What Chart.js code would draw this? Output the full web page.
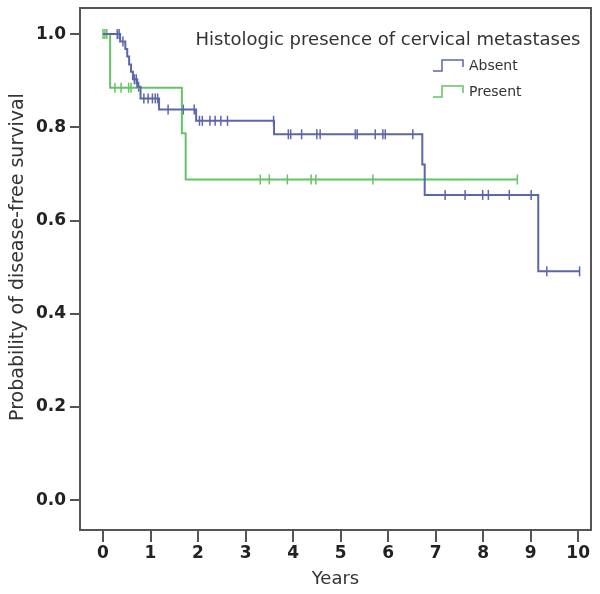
<!DOCTYPE html>
<html>
<head>
<meta charset="utf-8">
<script src="https://cdn.jsdelivr.net/npm/chart.js@4.4.1/dist/chart.umd.min.js"></script>
<style>
  html, body { margin: 0; padding: 0; background: #fff; }
  #wrap { width: 600px; height: 594px; }
</style>
</head>
<body>
<div id="wrap"><canvas id="km"></canvas></div>
<script>
const xTicks = [0, 1, 2, 3, 4, 5, 6, 7, 8, 9, 10];
const yTicks = [0, 0.2, 0.4, 0.6, 0.8, 1.0];

// Absent group: event times and survival after each step
const absentTimes = [0, 0.36, 0.47, 0.51, 0.55, 0.59, 0.63, 0.72, 0.79, 1.18, 1.96, 3.60, 6.72, 6.77, 9.16];
const absentSurv = [1.0, 0.984, 0.968, 0.952, 0.935, 0.919, 0.903, 0.887, 0.862, 0.838, 0.814, 0.785, 0.720, 0.655, 0.491];
const absentEnd = 10.03;
const absentCensored = [0.30, 0.34, 0.42, 0.66, 0.70, 0.75, 0.86, 0.95, 1.04, 1.10, 1.15,
  1.37, 1.69, 1.92, 2.03, 2.09, 2.25, 2.36, 2.48, 2.62, 3.59,
  3.90, 3.95, 4.18, 4.50, 4.57, 5.31, 5.35, 5.73, 5.89, 5.94, 6.52,
  7.20, 7.62, 7.99, 8.11, 8.55, 9.01, 9.34, 10.03];

// Present group
const presentTimes = [0, 0.15, 1.66, 1.74];
const presentSurv = [1.0, 0.885, 0.787, 0.688];
const presentEnd = 8.72;
const presentCensored = [0.0, 0.04, 0.08, 0.25, 0.38, 0.54, 0.59,
  3.31, 3.50, 3.88, 4.38, 4.48, 5.68, 8.72];

const BLUE = "#5b66ab";
const GREEN = "#66c266";
const AXIS = "#555";
const TEXT = "#333";

function stepPoints(times, surv, end) {
  const pts = times.map((t, i) => ({ x: t, y: surv[i] }));
  pts.push({ x: end, y: surv[surv.length - 1] });
  return pts;
}

function survAt(times, surv, t) {
  let s = surv[0];
  times.forEach((ti, i) => { if (ti <= t) s = surv[i]; });
  return s;
}

function censorPoints(list, times, surv) {
  return list.map((t) => ({ x: t, y: survAt(times, surv, t) }));
}

function curve(data, color) {
  return {
    data,
    borderColor: color,
    borderWidth: 2,
    stepped: true,
    pointRadius: 0,
    fill: false
  };
}

function marks(data, color) {
  return {
    data,
    showLine: false,
    borderColor: color,
    backgroundColor: color,
    borderWidth: 1.5,
    pointStyle: "line",
    rotation: 90,
    pointRadius: 5
  };
}

const framePlugin = {
  id: "frame",
  afterDatasetsDraw(chart) {
    const { ctx, chartArea: a } = chart;
    ctx.save();
    ctx.strokeStyle = AXIS;
    ctx.lineWidth = 2;
    ctx.strokeRect(a.left, a.top, a.right - a.left, a.bottom - a.top);
    ctx.restore();
  }
};

// legend box inside the plot and the y axis title
const legendPlugin = {
  id: "kmLegend",
  afterDraw(chart) {
    const ctx = chart.ctx;
    ctx.save();
    ctx.fillStyle = TEXT;
    ctx.textBaseline = "middle";
    ctx.textAlign = "center";
    ctx.font = '18px "DejaVu Sans"';
    ctx.fillText("Histologic presence of cervical metastases", 388, 40);

    ctx.save();
    ctx.translate(18, 257);
    ctx.rotate(-Math.PI / 2);
    ctx.font = '19px "DejaVu Sans"';
    ctx.fillText("Probability of disease-free survival", 0, 0);
    ctx.restore();

    const items = [
      { label: "Absent", color: BLUE, y: 66 },
      { label: "Present", color: GREEN, y: 92 }
    ];
    ctx.textAlign = "left";
    ctx.font = '14px "DejaVu Sans"';
    items.forEach((it) => {
      ctx.strokeStyle = it.color;
      ctx.lineWidth = 1.5;
      ctx.beginPath();
      ctx.moveTo(433, it.y + 5);
      ctx.lineTo(442, it.y + 5);
      ctx.lineTo(442, it.y - 6);
      ctx.lineTo(463, it.y - 6);
      ctx.lineTo(463, it.y + 1);
      ctx.stroke();
      ctx.fillStyle = TEXT;
      ctx.fillText(it.label, 469, it.y);
    });
    ctx.restore();
  }
};

const tickFont = { family: '"DejaVu Sans"', size: 17, weight: "bold" };

new Chart(document.getElementById("km"), {
  type: "line",
  data: {
    datasets: [
      curve(stepPoints(absentTimes, absentSurv, absentEnd), BLUE),
      curve(stepPoints(presentTimes, presentSurv, presentEnd), GREEN),
      marks(censorPoints(absentCensored, absentTimes, absentSurv), BLUE),
      marks(censorPoints(presentCensored, presentTimes, presentSurv), GREEN)
    ]
  },
  options: {
    responsive: true,
    maintainAspectRatio: false,
    animation: false,
    layout: { padding: { top: 8, right: 9, left: 0, bottom: 0 } },
    plugins: { legend: { display: false }, tooltip: { enabled: false } },
    scales: {
      x: {
        type: "linear",
        min: -0.484,
        max: 10.27,
        afterBuildTicks: (s) => { s.ticks = xTicks.map((v) => ({ value: v })); },
        afterFit: (s) => { s.height = 64; s.paddingLeft = 0; s.paddingRight = 0; },
        grid: { drawOnChartArea: false, drawTicks: true, tickLength: 12, color: AXIS, lineWidth: 2 },
        border: { display: true, color: AXIS, width: 2 },
        ticks: { font: tickFont, color: "#222", padding: 1, maxRotation: 0, callback: (v) => String(v) },
        title: { display: true, text: "Years", font: { family: '"DejaVu Sans"', size: 18 }, color: TEXT, padding: { top: 0, bottom: 4 } }
      },
      y: {
        type: "linear",
        min: -0.064,
        max: 1.056,
        afterBuildTicks: (s) => { s.ticks = yTicks.map((v) => ({ value: v })); },
        afterFit: (s) => { s.width = 80; s.paddingTop = 0; s.paddingBottom = 0; },
        grid: { drawOnChartArea: false, drawTicks: true, tickLength: 10, color: AXIS, lineWidth: 2 },
        border: { display: true, color: AXIS, width: 2 },
        ticks: { font: tickFont, color: "#222", padding: 4, callback: (v) => v.toFixed(1) },
        title: { display: false }
      }
    }
  },
  plugins: [framePlugin, legendPlugin]
});
</script>
</body>
</html>
